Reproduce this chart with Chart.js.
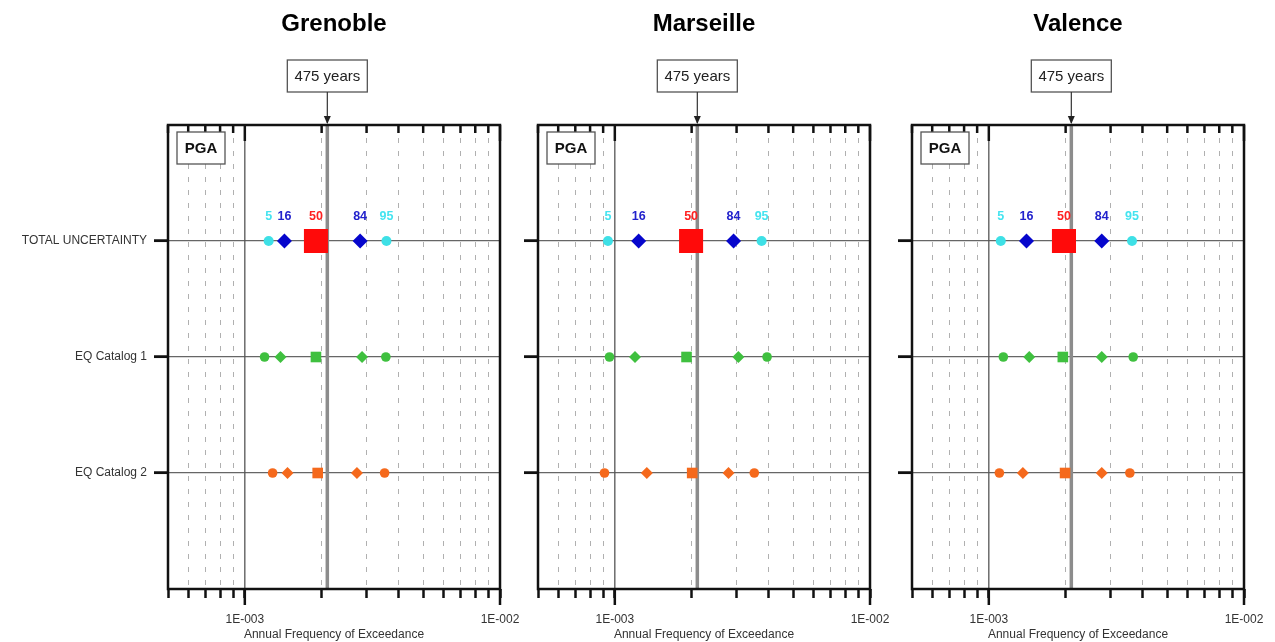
<!DOCTYPE html>
<html lang="en">
<head>
<meta charset="UTF-8">
<title>PGA - Annual Frequency of Exceedance</title>
<script src="https://cdn.jsdelivr.net/npm/chart.js"></script>
<style>
  body { margin: 0; background: #fff; }
  #wrap { position: relative; width: 1275px; height: 642px; overflow: hidden; }
  #wrap canvas { position: absolute; top: 0; }
</style>
</head>
<body>
<div id="wrap">
  <canvas id="c0"></canvas>
  <canvas id="c1"></canvas>
  <canvas id="c2"></canvas>
</div>
<script>
// ---- data ----
const sites = ['Grenoble', 'Marseille', 'Valence'];
const rowLabels = ['TOTAL UNCERTAINTY', 'EQ Catalog 1', 'EQ Catalog 2'];
const percentiles = ['5', '16', '50', '84', '95'];
const xTickValues = [5e-4, 6e-4, 7e-4, 8e-4, 9e-4, 1e-3, 2e-3, 3e-3, 4e-3, 5e-3, 6e-3, 7e-3, 8e-3, 9e-3, 1e-2];
const majorTicks = [1e-3, 1e-2];
const majorLabels = ['1E-003', '1E-002'];
const returnPeriod = 475;

// annual frequency of exceedance for percentiles 5, 16, 50, 84, 95
const grenobleTotal = [1.24e-3, 1.43e-3, 1.90e-3, 2.83e-3, 3.59e-3];
const grenobleCat1  = [1.195e-3, 1.38e-3, 1.90e-3, 2.88e-3, 3.57e-3];
const grenobleCat2  = [1.285e-3, 1.47e-3, 1.93e-3, 2.75e-3, 3.53e-3];

const marseilleTotal = [9.4e-4, 1.24e-3, 1.99e-3, 2.92e-3, 3.76e-3];
const marseilleCat1  = [9.53e-4, 1.20e-3, 1.91e-3, 3.05e-3, 3.95e-3];
const marseilleCat2  = [9.11e-4, 1.335e-3, 2.01e-3, 2.79e-3, 3.52e-3];

const valenceTotal = [1.114e-3, 1.405e-3, 1.97e-3, 2.77e-3, 3.64e-3];
const valenceCat1  = [1.14e-3, 1.44e-3, 1.95e-3, 2.77e-3, 3.68e-3];
const valenceCat2  = [1.10e-3, 1.36e-3, 1.99e-3, 2.77e-3, 3.57e-3];

const panelData = [
  [grenobleTotal, grenobleCat1, grenobleCat2],
  [marseilleTotal, marseilleCat1, marseilleCat2],
  [valenceTotal, valenceCat1, valenceCat2]
];

// ---- styles ----
const FONT = "'Liberation Sans', Arial, Helvetica, sans-serif";
Chart.defaults.font.family = FONT;

const CYAN = '#3ee0e6', BLUE = '#0606cc', RED = '#ff0a0a', GREEN = '#3fc03f', ORANGE = '#f5691c';
const pointShapes = ['circle', 'rectRot', 'rect', 'rectRot', 'circle'];
const rowStyles = [
  { colors: [CYAN, BLUE, RED, BLUE, CYAN], radius: [5, 7.5, 17, 7.5, 5] },
  { colors: Array(5).fill(GREEN), radius: [4.8, 6, 7.5, 6, 4.8] },
  { colors: Array(5).fill(ORANGE), radius: [4.8, 6, 7.5, 6, 4.8] }
];
const labelColors = ['#44e4f0', '#2222cc', '#ff2020', '#2222cc', '#44e4f0'];

// panel geometry (plot areas)
const areaLeft = [168, 538, 912];
const areaW = 332;
const yAxisW = [168, 30, 30];
const padRight = 45;

function isMajor(v) { return majorTicks.some(m => Math.abs(m - v) / m < 1e-6); }

function line(ctx, x1, y1, x2, y2, color, w) {
  ctx.beginPath();
  ctx.strokeStyle = color;
  ctx.lineWidth = w;
  ctx.moveTo(x1, y1);
  ctx.lineTo(x2, y2);
  ctx.stroke();
}

const decor = {
  id: 'decor',
  beforeDatasetsDraw(chart) {
    const { ctx, chartArea: a, scales: { x } } = chart;
    ctx.save();
    // solid line at 1E-003
    const x3 = x.getPixelForValue(majorTicks[0]);
    line(ctx, x3, a.top, x3, a.bottom, '#555', 1.3);
    // 475 years line
    const xr = x.getPixelForValue(1 / returnPeriod);
    line(ctx, xr, a.top, xr, a.bottom, '#8c8c8c', 3.5);
    // inner top ticks + long major bottom ticks
    xTickValues.forEach(v => {
      const px = x.getPixelForValue(v);
      const major = isMajor(v);
      line(ctx, px, a.top, px, a.top + (major ? 16 : 8), '#111', 2.5);
      if (major) line(ctx, px, a.bottom, px, a.bottom + 16, '#111', 2.5);
    });
    // frame
    ctx.strokeStyle = '#111';
    ctx.lineWidth = 2.5;
    ctx.strokeRect(a.left, a.top, a.width, a.height);
    // PGA box
    ctx.fillStyle = '#fff';
    ctx.fillRect(a.left + 9, a.top + 7, 48, 32);
    ctx.strokeStyle = '#555';
    ctx.lineWidth = 1.3;
    ctx.strokeRect(a.left + 9, a.top + 7, 48, 32);
    ctx.fillStyle = '#111';
    ctx.font = 'bold 15px ' + FONT;
    ctx.textAlign = 'center';
    ctx.textBaseline = 'middle';
    ctx.fillText('PGA', a.left + 33, a.top + 23.5);
    ctx.restore();
  },
  afterDatasetsDraw(chart) {
    const { ctx } = chart;
    const meta = chart.getDatasetMeta(0);
    ctx.save();
    ctx.font = 'bold 12.5px ' + FONT;
    ctx.textAlign = 'center';
    ctx.textBaseline = 'middle';
    meta.data.forEach((pt, i) => {
      ctx.fillStyle = labelColors[i];
      ctx.fillText(percentiles[i], pt.x, pt.y - 24);
    });
    ctx.restore();
  },
  afterDraw(chart) {
    const { ctx, chartArea: a, scales: { x } } = chart;
    const xr = x.getPixelForValue(1 / returnPeriod);
    ctx.save();
    const bw = 80, bh = 32, by = 60;
    ctx.fillStyle = '#fff';
    ctx.fillRect(xr - bw / 2, by, bw, bh);
    ctx.strokeStyle = '#555';
    ctx.lineWidth = 1.3;
    ctx.strokeRect(xr - bw / 2, by, bw, bh);
    ctx.fillStyle = '#222';
    ctx.font = '15px ' + FONT;
    ctx.textAlign = 'center';
    ctx.textBaseline = 'middle';
    ctx.fillText(returnPeriod + ' years', xr, by + bh / 2 + 1);
    // arrow
    line(ctx, xr, by + bh, xr, a.top - 2, '#333', 1.2);
    ctx.beginPath();
    ctx.fillStyle = '#222';
    ctx.moveTo(xr - 3.5, a.top - 9);
    ctx.lineTo(xr + 3.5, a.top - 9);
    ctx.lineTo(xr, a.top - 1);
    ctx.closePath();
    ctx.fill();
    ctx.restore();
  }
};

sites.forEach((site, p) => {
  const canvas = document.getElementById('c' + p);
  const left = areaLeft[p] - yAxisW[p];
  const width = yAxisW[p] + areaW + padRight;
  canvas.width = width;
  canvas.height = 642;
  canvas.style.left = left + 'px';

  const datasets = panelData[p].map((vals, r) => ({
    label: rowLabels[r],
    data: vals.map(v => ({ x: v, y: r + 1 })),
    showLine: false,
    pointStyle: pointShapes,
    pointRadius: rowStyles[r].radius,
    pointBackgroundColor: rowStyles[r].colors,
    pointBorderColor: rowStyles[r].colors,
    pointBorderWidth: 0
  }));

  new Chart(canvas, {
    type: 'scatter',
    data: { datasets },
    options: {
      responsive: false,
      animation: false,
      events: [],
      layout: { padding: { left: 0, right: padRight, top: 0, bottom: 0 } },
      plugins: {
        legend: { display: false },
        tooltip: { enabled: false },
        title: {
          display: true,
          text: site,
          fullSize: false,
          color: '#000',
          font: { size: 24, weight: 'bold', family: FONT },
          padding: { top: 10, bottom: 86.2 }
        }
      },
      scales: {
        x: {
          type: 'logarithmic',
          min: xTickValues[0],
          max: xTickValues[xTickValues.length - 1],
          afterBuildTicks: s => { s.ticks = xTickValues.map(v => ({ value: v })); },
          afterFit: s => { s.height = 53; },
          ticks: {
            autoSkip: false,
            maxRotation: 0,
            padding: 14,
            color: '#333',
            font: { size: 12 },
            callback: v => {
              const i = majorTicks.findIndex(m => Math.abs(m - v) / m < 1e-6);
              return i >= 0 ? majorLabels[i] : '';
            }
          },
          title: {
            display: true,
            text: 'Annual Frequency of Exceedance',
            color: '#333',
            font: { size: 12 },
            padding: { top: 0, bottom: 0 }
          },
          grid: {
            color: c => (c.tick && !isMajor(c.tick.value) && c.index !== 0) ? '#b0b0b0' : 'rgba(0,0,0,0)',
            lineWidth: 1,
            tickLength: 9,
            tickColor: '#111',
            tickWidth: 2.5,
            tickBorderDash: []
          },
          border: { display: false, dash: [5, 8] }
        },
        y: {
          type: 'linear',
          min: 0,
          max: 4,
          reverse: true,
          afterBuildTicks: s => { s.ticks = rowLabels.map((_, i) => ({ value: i + 1 })); },
          afterFit: s => { s.width = yAxisW[p]; },
          ticks: {
            padding: 7,
            color: '#333',
            font: { size: 12 },
            callback: (v, i) => (p === 0 ? rowLabels[i] : '')
          },
          grid: {
            color: '#666',
            lineWidth: 1.3,
            tickLength: 14,
            tickColor: '#111',
            tickWidth: 2.8
          },
          border: { display: false }
        }
      }
    },
    plugins: [decor]
  });
});
</script>
</body>
</html>
